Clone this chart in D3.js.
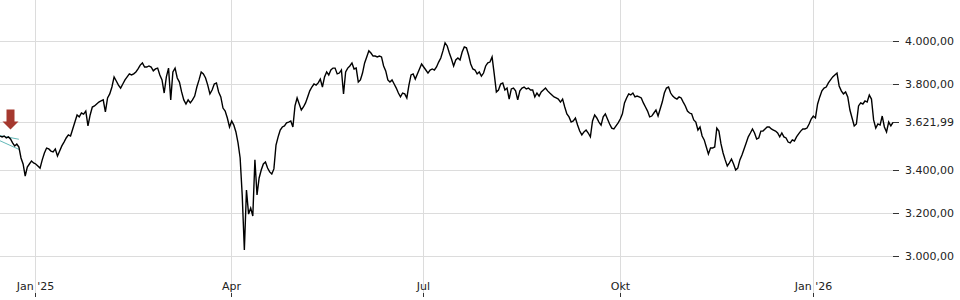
<!DOCTYPE html>
<html>
<head>
<meta charset="utf-8">
<script src="https://cdn.jsdelivr.net/npm/d3@7/dist/d3.min.js"></script>
<style>
  html, body { margin: 0; padding: 0; background: #fff; }
  #chart svg { display: block; }
  .axis text { font-family: "DejaVu Sans", sans-serif; font-size: 11px; fill: #222; }
  .axis line { stroke: #333; }
</style>
</head>
<body>
<div id="chart"></div>
<script>
// daily closes, one value per calendar day from each block's start date
const dec2024 = [3558,3554,3558,3549,3554,3544,3526,3512,3521,3507,3456,3428,3372,3414,3428,3442,3433];

const q1_2025 = [3428,3419,3409,3447,3479,3502,3498,3488,3484,3498,
  3465,3488,3512,3530,3549,3563,3558,3591,3623,3656,
  3647,3665,3660,3674,3605,3656,3693,3698,3707,3716,
  3721,3726,3670,3735,3754,3786,3833,3814,3795,3781,
  3800,3819,3833,3847,3842,3847,3856,3870,3888,3898,
  3879,3879,3884,3879,3861,3870,3874,3842,3819,3758,
  3833,3874,3726,3856,3874,3828,3809,3763,3726,3707,
  3726,3712,3726,3744,3786,3819,3856,3847,3828,3795,
  3754,3772,3800,3805,3763,3740,3688,3674,3642,3600];

const q2_2025 = [3628,3609,3577,3526,3456,3279,3028,3307,3195,3223,
  3186,3447,3284,3363,3400,3428,3437,3409,3391,3381,
  3405,3516,3554,3586,3600,3605,3619,3623,3628,3600,
  3698,3735,3707,3679,3693,3712,3740,3768,3786,3800,
  3795,3805,3823,3786,3833,3856,3842,3865,3874,3874,
  3847,3851,3865,3754,3856,3874,3884,3898,3870,3874,
  3809,3819,3851,3898,3926,3954,3944,3930,3930,3926,
  3930,3926,3884,3861,3819,3809,3819,3800,3781,3758,
  3740,3758,3754,3735,3795,3842,3847,3823,3847,3870,
  3893];

const q3_2025 = [3879,3865,3851,3865,3870,3865,3879,3902,3921,3954,
  3991,3977,3944,3916,3884,3912,3921,3912,3949,3972,
  3968,3935,3893,3870,3865,3847,3856,3837,3851,3884,
  3898,3902,3926,3847,3763,3772,3800,3805,3772,3781,
  3730,3777,3781,3768,3726,3768,3781,3786,3777,3781,
  3772,3772,3740,3758,3744,3763,3772,3781,3768,3758,
  3749,3740,3735,3730,3716,3730,3693,3661,3647,3623,
  3628,3642,3609,3581,3563,3577,3586,3572,3554,3628,
  3656,3642,3623,3609,3647,3661,3637,3614,3595,3591,
  3605,3619];

const q4_2025 = [3637,3661,3712,3735,3754,3749,3758,3740,3744,3740,
  3735,3712,3693,3674,3647,3651,3665,3679,3651,3684,
  3716,3758,3781,3786,3758,3744,3735,3730,3740,3735,
  3716,3698,3674,3665,3661,3633,3623,3586,3600,3558,
  3540,3507,3474,3502,3502,3507,3595,3581,3521,3479,
  3447,3419,3433,3451,3428,3400,3409,3447,3470,3498,
  3526,3554,3572,3591,3572,3544,3549,3581,3581,3591,
  3600,3600,3591,3586,3581,3572,3554,3572,3554,3549,
  3530,3526,3540,3535,3554,3568,3581,3591,3591,3595,
  3614,3637];

const q1_2026 = [3651,3642,3707,3740,3768,3781,3786,3805,3819,3833,
  3842,3851,3791,3768,3754,3763,3740,3679,3642,3605,
  3614,3698,3712,3707,3721,3716,3749,3730,3633,3595,
  3614,3609,3651,3600,3577,3623,3605,3621.99];

const blockStarts = [new Date(2024, 11, 15), new Date(2025, 0, 1), new Date(2025, 3, 1),
                     new Date(2025, 6, 1), new Date(2025, 9, 1), new Date(2026, 0, 1)];
const blocks = [dec2024, q1_2025, q2_2025, q3_2025, q4_2025, q1_2026];

// short trend channel at the start + sell signal
const channelDates = [new Date(2024, 11, 15), new Date(2024, 11, 24)];
const channelUpper = [3560, 3543];
const channelLower = [3536, 3496];
const signalDate = new Date(2024, 11, 20);
const signalValue = 3588;

const lastPrice = 3621.99;
const yTicks = [3000, 3200, 3400, lastPrice, 3800, 4000];
const xTicks = [new Date(2025, 0, 1), new Date(2025, 3, 1), new Date(2025, 6, 1),
                new Date(2025, 9, 1), new Date(2026, 0, 1)];
const xTickLabels = ["Jan '25", "Apr", "Jul", "Okt", "Jan '26"];

const data = blocks.flatMap((vals, b) =>
  vals.map((v, i) => ({ date: d3.timeDay.offset(blockStarts[b], i), value: v })));

const width = 960, height = 300;
const plotRight = 893, plotBottom = 293;

const svg = d3.select("#chart").append("svg")
  .attr("width", width)
  .attr("height", height);

const x = d3.scaleTime()
  .domain([new Date(2024, 11, 15), new Date(2025, 0, 1), new Date(2025, 3, 1), new Date(2025, 6, 1),
           new Date(2025, 9, 1), new Date(2026, 0, 1), new Date(2026, 1, 7)])
  .range([0, 35.7, 231.7, 423.7, 620.3, 813.3, plotRight]);

const y = d3.scaleLinear().domain([3000, 4000]).range([256, 41]);

const de = d3.formatLocale({ decimal: ",", thousands: ".", grouping: [3], currency: ["", " €"] });
const fmt = de.format(",.2f");
const crisp = v => Math.floor(v) + 0.5;

// grid
svg.append("g").selectAll("line")
  .data(yTicks).enter().append("line")
  .attr("x1", 0).attr("x2", plotRight)
  .attr("y1", d => crisp(y(d))).attr("y2", d => crisp(y(d)))
  .attr("stroke", "#dcdcdc");

svg.append("g").selectAll("line")
  .data(xTicks).enter().append("line")
  .attr("x1", d => crisp(x(d))).attr("x2", d => crisp(x(d)))
  .attr("y1", 0).attr("y2", plotBottom)
  .attr("stroke", "#dcdcdc");

// y axis on the right
const yAxis = svg.append("g")
  .attr("class", "axis")
  .attr("transform", `translate(${plotRight},0)`)
  .call(d3.axisRight(y).tickValues(yTicks).tickSize(6).tickPadding(6).tickFormat(fmt));
yAxis.select(".domain").remove();
yAxis.selectAll(".tick").attr("transform", d => `translate(0,${crisp(y(d))})`);

// x axis, labels sit above the tick marks
const xAxis = svg.append("g")
  .attr("class", "axis")
  .attr("transform", `translate(0,${plotBottom})`)
  .call(d3.axisBottom(x).tickValues(xTicks).tickSize(4).tickFormat((d, i) => xTickLabels[i]));
xAxis.select(".domain").remove();
xAxis.selectAll(".tick").attr("transform", d => `translate(${crisp(x(d))},0)`);
xAxis.selectAll("text").attr("y", -3).attr("dy", 0);

// channel
const chLine = d3.line().x(d => x(d[0])).y(d => y(d[1]));
[channelUpper, channelLower].forEach(arr => {
  svg.append("path")
    .datum(channelDates.map((d, i) => [d, arr[i]]))
    .attr("d", chLine)
    .attr("fill", "none")
    .attr("stroke", "#62b8b8")
    .attr("stroke-width", 1);
});

// price line
const line = d3.line().x(d => x(d.date)).y(d => y(d.value));
svg.append("path")
  .datum(data)
  .attr("d", line)
  .attr("fill", "none")
  .attr("stroke", "#000")
  .attr("stroke-width", 1.4)
  .attr("stroke-linejoin", "miter");

// sell arrow
const ax = x(signalDate), ay = y(signalValue);
svg.append("path")
  .attr("d", `M${ax},${ay} L${ax - 8},${ay - 8} L${ax - 4},${ay - 8} L${ax - 4},${ay - 20} L${ax + 4},${ay - 20} L${ax + 4},${ay - 8} L${ax + 8},${ay - 8} Z`)
  .attr("fill", "#a5392f");
</script>
</body>
</html>
